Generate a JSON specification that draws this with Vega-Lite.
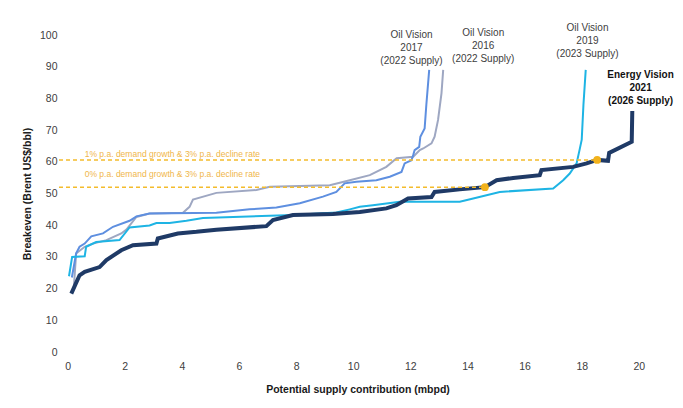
{
  "$schema": "https://vega.github.io/schema/vega-lite/v6.json",
  "autosize": {"type": "none"},
  "padding": {"left": 59, "top": 35, "right": 27, "bottom": 56},
  "width": 597,
  "height": 317,
  "background": "white",
  "config": {
    "view": {"stroke": null},
    "font": "Liberation Sans, Arial",
    "axis": {"grid": false, "domain": false, "ticks": false, "labelOverlap": false, "labelFont": "Liberation Sans", "titleFont": "Liberation Sans", "labelFontSize": 10.5, "labelColor": "#404040", "titleFontSize": 10.5, "titleFontWeight": "bold", "titleColor": "#1a1a1a"},
    "axisX": {"labelPadding": 9, "titlePadding": 13},
    "axisY": {"labelPadding": 2, "titlePadding": 7}
  },
  "datasets": {
    "curves": [
      {"series": "Oil Vision 2016", "x": 0.22, "y": 20.5}, {"series": "Oil Vision 2016", "x": 0.3, "y": 31.1}, {"series": "Oil Vision 2016", "x": 0.6, "y": 33.2}, {"series": "Oil Vision 2016", "x": 0.89, "y": 34.2}, {"series": "Oil Vision 2016", "x": 1.36, "y": 35.3}, {"series": "Oil Vision 2016", "x": 1.88, "y": 37.4}, {"series": "Oil Vision 2016", "x": 2.06, "y": 38.6}, {"series": "Oil Vision 2016", "x": 2.41, "y": 42.6}, {"series": "Oil Vision 2016", "x": 2.87, "y": 43.7}, {"series": "Oil Vision 2016", "x": 4.04, "y": 43.9}, {"series": "Oil Vision 2016", "x": 4.27, "y": 45.8}, {"series": "Oil Vision 2016", "x": 4.39, "y": 48.1}, {"series": "Oil Vision 2016", "x": 5.21, "y": 50.2}, {"series": "Oil Vision 2016", "x": 6.61, "y": 51.1}, {"series": "Oil Vision 2016", "x": 7.08, "y": 52.1}, {"series": "Oil Vision 2016", "x": 9.18, "y": 52.6}, {"series": "Oil Vision 2016", "x": 9.88, "y": 54.2}, {"series": "Oil Vision 2016", "x": 10.58, "y": 55.8}, {"series": "Oil Vision 2016", "x": 11.16, "y": 58.4}, {"series": "Oil Vision 2016", "x": 11.52, "y": 61.1}, {"series": "Oil Vision 2016", "x": 12.1, "y": 61.6}, {"series": "Oil Vision 2016", "x": 12.33, "y": 63.7}, {"series": "Oil Vision 2016", "x": 12.45, "y": 64.2}, {"series": "Oil Vision 2016", "x": 12.74, "y": 65.8}, {"series": "Oil Vision 2016", "x": 12.85, "y": 67.9}, {"series": "Oil Vision 2016", "x": 12.97, "y": 73.2}, {"series": "Oil Vision 2016", "x": 13.09, "y": 81.6}, {"series": "Oil Vision 2016", "x": 13.15, "y": 89},
      {"series": "Oil Vision 2017", "x": 0.15, "y": 23.5}, {"series": "Oil Vision 2017", "x": 0.3, "y": 31.1}, {"series": "Oil Vision 2017", "x": 0.42, "y": 33.2}, {"series": "Oil Vision 2017", "x": 0.6, "y": 34.2}, {"series": "Oil Vision 2017", "x": 0.83, "y": 36.5}, {"series": "Oil Vision 2017", "x": 1.24, "y": 37.4}, {"series": "Oil Vision 2017", "x": 1.59, "y": 39.5}, {"series": "Oil Vision 2017", "x": 2.17, "y": 41.4}, {"series": "Oil Vision 2017", "x": 2.41, "y": 42.8}, {"series": "Oil Vision 2017", "x": 2.87, "y": 43.7}, {"series": "Oil Vision 2017", "x": 5.21, "y": 43.9}, {"series": "Oil Vision 2017", "x": 6.37, "y": 45.0}, {"series": "Oil Vision 2017", "x": 7.31, "y": 45.6}, {"series": "Oil Vision 2017", "x": 8.13, "y": 46.9}, {"series": "Oil Vision 2017", "x": 8.94, "y": 49.0}, {"series": "Oil Vision 2017", "x": 9.41, "y": 50.5}, {"series": "Oil Vision 2017", "x": 9.7, "y": 53.2}, {"series": "Oil Vision 2017", "x": 10.11, "y": 53.7}, {"series": "Oil Vision 2017", "x": 10.81, "y": 54.2}, {"series": "Oil Vision 2017", "x": 11.28, "y": 55.3}, {"series": "Oil Vision 2017", "x": 11.69, "y": 56.8}, {"series": "Oil Vision 2017", "x": 11.8, "y": 59.5}, {"series": "Oil Vision 2017", "x": 12.04, "y": 60.5}, {"series": "Oil Vision 2017", "x": 12.1, "y": 62.1}, {"series": "Oil Vision 2017", "x": 12.15, "y": 63.7}, {"series": "Oil Vision 2017", "x": 12.31, "y": 64.7}, {"series": "Oil Vision 2017", "x": 12.35, "y": 67.9}, {"series": "Oil Vision 2017", "x": 12.5, "y": 70.5}, {"series": "Oil Vision 2017", "x": 12.56, "y": 78}, {"series": "Oil Vision 2017", "x": 12.66, "y": 89},
      {"series": "Oil Vision 2019", "x": 0.05, "y": 23.9}, {"series": "Oil Vision 2019", "x": 0.16, "y": 30.0}, {"series": "Oil Vision 2019", "x": 0.6, "y": 30.2}, {"series": "Oil Vision 2019", "x": 0.65, "y": 33.2}, {"series": "Oil Vision 2019", "x": 1.0, "y": 34.7}, {"series": "Oil Vision 2019", "x": 1.82, "y": 35.3}, {"series": "Oil Vision 2019", "x": 2.17, "y": 39.3}, {"series": "Oil Vision 2019", "x": 2.87, "y": 39.9}, {"series": "Oil Vision 2019", "x": 3.11, "y": 40.7}, {"series": "Oil Vision 2019", "x": 3.57, "y": 40.7}, {"series": "Oil Vision 2019", "x": 4.16, "y": 41.4}, {"series": "Oil Vision 2019", "x": 4.74, "y": 42.3}, {"series": "Oil Vision 2019", "x": 7.89, "y": 43.2}, {"series": "Oil Vision 2019", "x": 9.41, "y": 44.0}, {"series": "Oil Vision 2019", "x": 9.88, "y": 45.0}, {"series": "Oil Vision 2019", "x": 10.23, "y": 45.8}, {"series": "Oil Vision 2019", "x": 10.69, "y": 46.3}, {"series": "Oil Vision 2019", "x": 11.63, "y": 47.4}, {"series": "Oil Vision 2019", "x": 13.73, "y": 47.4}, {"series": "Oil Vision 2019", "x": 14.2, "y": 48.4}, {"series": "Oil Vision 2019", "x": 15.13, "y": 50.5}, {"series": "Oil Vision 2019", "x": 17.0, "y": 51.6}, {"series": "Oil Vision 2019", "x": 17.35, "y": 54.2}, {"series": "Oil Vision 2019", "x": 17.58, "y": 56.3}, {"series": "Oil Vision 2019", "x": 17.82, "y": 59.5}, {"series": "Oil Vision 2019", "x": 17.93, "y": 64.0}, {"series": "Oil Vision 2019", "x": 18.0, "y": 67.0}, {"series": "Oil Vision 2019", "x": 18.06, "y": 78.0}, {"series": "Oil Vision 2019", "x": 18.14, "y": 89.0},
      {"series": "Energy Vision 2021", "x": 0.13, "y": 18.4}, {"series": "Energy Vision 2021", "x": 0.42, "y": 24.2}, {"series": "Energy Vision 2021", "x": 0.6, "y": 25.3}, {"series": "Energy Vision 2021", "x": 1.12, "y": 26.8}, {"series": "Energy Vision 2021", "x": 1.36, "y": 29.0}, {"series": "Energy Vision 2021", "x": 1.88, "y": 32.1}, {"series": "Energy Vision 2021", "x": 2.29, "y": 33.7}, {"series": "Energy Vision 2021", "x": 3.11, "y": 34.2}, {"series": "Energy Vision 2021", "x": 3.16, "y": 35.8}, {"series": "Energy Vision 2021", "x": 3.86, "y": 37.4}, {"series": "Energy Vision 2021", "x": 4.51, "y": 37.9}, {"series": "Energy Vision 2021", "x": 5.21, "y": 38.6}, {"series": "Energy Vision 2021", "x": 6.96, "y": 39.7}, {"series": "Energy Vision 2021", "x": 7.19, "y": 41.6}, {"series": "Energy Vision 2021", "x": 7.89, "y": 43.2}, {"series": "Energy Vision 2021", "x": 9.29, "y": 43.5}, {"series": "Energy Vision 2021", "x": 10.23, "y": 44.2}, {"series": "Energy Vision 2021", "x": 11.16, "y": 45.3}, {"series": "Energy Vision 2021", "x": 11.51, "y": 46.3}, {"series": "Energy Vision 2021", "x": 11.92, "y": 48.4}, {"series": "Energy Vision 2021", "x": 12.74, "y": 48.9}, {"series": "Energy Vision 2021", "x": 12.85, "y": 50.5}, {"series": "Energy Vision 2021", "x": 13.73, "y": 51.3}, {"series": "Energy Vision 2021", "x": 14.61, "y": 52.0}, {"series": "Energy Vision 2021", "x": 15.02, "y": 54.2}, {"series": "Energy Vision 2021", "x": 15.6, "y": 54.9}, {"series": "Energy Vision 2021", "x": 16.53, "y": 55.8}, {"series": "Energy Vision 2021", "x": 16.59, "y": 57.4}, {"series": "Energy Vision 2021", "x": 17.7, "y": 58.4}, {"series": "Energy Vision 2021", "x": 18.17, "y": 59.5}, {"series": "Energy Vision 2021", "x": 18.54, "y": 60.6}, {"series": "Energy Vision 2021", "x": 18.92, "y": 60.3}, {"series": "Energy Vision 2021", "x": 18.96, "y": 62.8}, {"series": "Energy Vision 2021", "x": 19.75, "y": 66.3}, {"series": "Energy Vision 2021", "x": 19.77, "y": 76.0}
    ],
    "thresholds": [
      {"label": "1% p.a. demand growth & 3% p.a. decline rate", "x0": -0.3, "x1": 18.54, "y": 60.6, "ly": 62.6},
      {"label": "0% p.a. demand growth & 3% p.a. decline rate", "x0": -0.3, "x1": 14.61, "y": 52.0, "ly": 56.1}
    ],
    "labels": [
      {"text": "Oil Vision\n2017\n(2022 Supply)", "x": 12.04, "y": 100.0, "kind": "oil"},
      {"text": "Oil Vision\n2016\n(2022 Supply)", "x": 14.55, "y": 100.5, "kind": "oil"},
      {"text": "Oil Vision\n2019\n(2023 Supply)", "x": 18.2, "y": 102.1, "kind": "oil"},
      {"text": "Energy Vision\n2021\n(2026 Supply)", "x": 20.06, "y": 87.4, "kind": "energy"}
    ]
  },
  "layer": [
    {
      "data": {"name": "curves"},
      "transform": [{"filter": "datum.series !== 'Energy Vision 2021'"}],
      "mark": {"type": "line", "strokeWidth": 2},
      "encoding": {
        "x": {"field": "x", "type": "quantitative", "scale": {"domain": [-0.3, 20.6], "nice": false, "zero": false},
          "axis": {"values": [0, 2, 4, 6, 8, 10, 12, 14, 16, 18, 20], "labelOverlap": false, "title": "Potential supply contribution (mbpd)"}},
        "y": {"field": "y", "type": "quantitative", "scale": {"domain": [0, 100], "nice": false},
          "axis": {"values": [0, 10, 20, 30, 40, 50, 60, 70, 80, 90, 100], "labelOverlap": false, "title": "Breakeven (Brent US$/bbl)"}},
        "color": {"field": "series", "type": "nominal", "legend": null,
          "scale": {"domain": ["Oil Vision 2016", "Oil Vision 2017", "Oil Vision 2019"], "range": ["#9ea7c2", "#5e8fe0", "#1eb4e4"]}}
      }
    },
    {
      "data": {"name": "curves"},
      "transform": [{"filter": "datum.series === 'Energy Vision 2021'"}],
      "mark": {"type": "line", "strokeWidth": 4, "color": "#1f3a66"},
      "encoding": {
        "x": {"field": "x", "type": "quantitative", "axis": {"values": [0, 2, 4, 6, 8, 10, 12, 14, 16, 18, 20], "labelOverlap": false, "title": "Potential supply contribution (mbpd)"}},
        "y": {"field": "y", "type": "quantitative", "axis": {"values": [0, 10, 20, 30, 40, 50, 60, 70, 80, 90, 100], "labelOverlap": false, "title": "Breakeven (Brent US$/bbl)"}}
      }
    },
    {
      "data": {"name": "thresholds"},
      "mark": {"type": "rule", "color": "#f4bc2c", "strokeWidth": 1.5, "strokeDash": [4, 3]},
      "encoding": {
        "x": {"field": "x0", "type": "quantitative", "axis": {"values": [0, 2, 4, 6, 8, 10, 12, 14, 16, 18, 20], "labelOverlap": false, "title": "Potential supply contribution (mbpd)"}},
        "x2": {"field": "x1"},
        "y": {"field": "y", "type": "quantitative", "axis": {"values": [0, 10, 20, 30, 40, 50, 60, 70, 80, 90, 100], "labelOverlap": false, "title": "Breakeven (Brent US$/bbl)"}}
      }
    },
    {
      "data": {"name": "thresholds"},
      "mark": {"type": "point", "filled": true, "size": 60, "color": "#f2b21c", "opacity": 1},
      "encoding": {
        "x": {"field": "x1", "type": "quantitative", "axis": {"values": [0, 2, 4, 6, 8, 10, 12, 14, 16, 18, 20], "labelOverlap": false, "title": "Potential supply contribution (mbpd)"}},
        "y": {"field": "y", "type": "quantitative", "axis": {"values": [0, 10, 20, 30, 40, 50, 60, 70, 80, 90, 100], "labelOverlap": false, "title": "Breakeven (Brent US$/bbl)"}}
      }
    },
    {
      "data": {"name": "thresholds"},
      "mark": {"type": "text", "align": "left", "baseline": "middle", "fontSize": 8.5, "color": "#f0b64a"},
      "encoding": {
        "x": {"datum": 0.6, "type": "quantitative", "axis": {"values": [0, 2, 4, 6, 8, 10, 12, 14, 16, 18, 20], "labelOverlap": false, "title": "Potential supply contribution (mbpd)"}},
        "y": {"field": "ly", "type": "quantitative", "axis": {"values": [0, 10, 20, 30, 40, 50, 60, 70, 80, 90, 100], "labelOverlap": false, "title": "Breakeven (Brent US$/bbl)"}},
        "text": {"field": "label"}
      }
    },
    {
      "data": {"name": "labels"},
      "transform": [{"filter": "datum.kind === 'oil'"}],
      "mark": {"type": "text", "align": "center", "baseline": "middle", "fontSize": 10, "lineBreak": "\n", "lineHeight": 13, "color": "#404040"},
      "encoding": {
        "x": {"field": "x", "type": "quantitative", "axis": {"values": [0, 2, 4, 6, 8, 10, 12, 14, 16, 18, 20], "labelOverlap": false, "title": "Potential supply contribution (mbpd)"}},
        "y": {"field": "y", "type": "quantitative", "axis": {"values": [0, 10, 20, 30, 40, 50, 60, 70, 80, 90, 100], "labelOverlap": false, "title": "Breakeven (Brent US$/bbl)"}},
        "text": {"field": "text"}
      }
    },
    {
      "data": {"name": "labels"},
      "transform": [{"filter": "datum.kind === 'energy'"}],
      "mark": {"type": "text", "align": "center", "baseline": "middle", "fontSize": 10, "fontWeight": "bold", "lineBreak": "\n", "lineHeight": 13, "color": "#111111"},
      "encoding": {
        "x": {"field": "x", "type": "quantitative", "axis": {"values": [0, 2, 4, 6, 8, 10, 12, 14, 16, 18, 20], "labelOverlap": false, "title": "Potential supply contribution (mbpd)"}},
        "y": {"field": "y", "type": "quantitative", "axis": {"values": [0, 10, 20, 30, 40, 50, 60, 70, 80, 90, 100], "labelOverlap": false, "title": "Breakeven (Brent US$/bbl)"}},
        "text": {"field": "text"}
      }
    }
  ]
}
